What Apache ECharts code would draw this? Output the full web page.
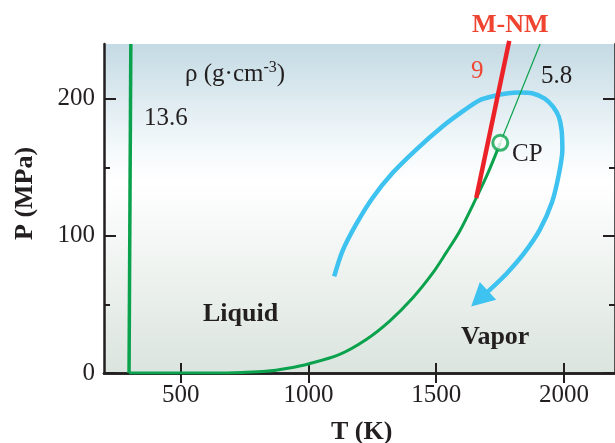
<!DOCTYPE html>
<html><head><meta charset="utf-8">
<script src="https://cdn.jsdelivr.net/npm/echarts@6/dist/echarts.min.js"></script>
<style>html,body{margin:0;padding:0;background:#fff}#c{width:615px;height:443px}</style>
</head><body><div id="c"></div>
<script>
// Axis ranges and ticks
const xRange = [200, 2200];
const yRange = [0, 240];
const xTicks = [500, 1000, 1500, 2000];
const yMajor = [0, 100, 200];
const yMinor = [50, 150];

// Isochore rho = 13.6 g/cm3 (T, P)
const iso136 = [[298, 0], [305, 240]];
// Liquid-vapor coexistence curve up to the critical point (T, P)
const coexist = [[298, 0], [640, 0], [740, 0.4], [833, 1.2], [920, 3.5], [1003, 6.8], [1120, 13.4], [1225, 24.3], [1317, 37.7], [1408, 54.7], [1487, 73], [1540, 88], [1592, 103.4], [1657, 127.7], [1703, 146], [1751, 167.9]];
// Isochore rho = 5.8 g/cm3 above CP
const iso58 = [[1751, 167.9], [1907, 240]];
// Metal-nonmetal line (rho = 9)
const mnm = [[1657, 127.7], [1786, 242.3]];
// Critical point
const cp = [[1751, 167.9]];
// Blue path arrow (T, P)
const pathT = [1101, 1133, 1186, 1251, 1330, 1422, 1526, 1605, 1670, 1722, 1775, 1827, 1879, 1925, 1958, 1980, 1991, 1994, 1980, 1953, 1906, 1845, 1778, 1713];
const pathP = [70.5, 88.8, 108.2, 127.7, 146, 163, 180, 191, 199, 201.9, 203.9, 204.6, 203.9, 200.2, 194.2, 186.9, 177.1, 163, 144.7, 124.3, 104.6, 87.6, 73, 61.2];
const arrowHead = [1670, 54.2];

const GREEN = '#0aa24c', RED = '#ec2229', BLUE = '#3ec3f1', TXTRED = '#ef4430', INK = '#231f20';
const FONT = 'Liberation Serif';

const pathData = pathT.map((t, i) => ({ value: [t, pathP[i]], symbol: 'none' }));
pathData.push({ value: arrowHead, symbol: 'triangle', symbolSize: [24, 23], symbolRotate: 133 });

const chart = echarts.init(document.getElementById('c'), null, { renderer: 'canvas' });

const fmt = v => String(v);
function xAx(pos, labels) {
  return {
    type: 'value', position: pos, min: xRange[0], max: xRange[1],
    axisLine: { show: true, lineStyle: { color: INK, width: 2.5 } },
    splitLine: { show: false },
    axisTick: { show: true, inside: true, length: 10, lineStyle: { color: INK, width: 2 }, customValues: xTicks },
    axisLabel: { show: labels, color: INK, fontFamily: FONT, fontSize: 25, margin: 10, formatter: fmt, customValues: xTicks }
  };
}
function yAx(pos, ticks, len, labels, line) {
  return {
    type: 'value', position: pos, min: yRange[0], max: yRange[1],
    axisLine: { show: line, lineStyle: { color: INK, width: 2.5 } },
    splitLine: { show: false },
    axisTick: { show: true, inside: true, length: len, lineStyle: { color: INK, width: 2 }, customValues: ticks },
    axisLabel: { show: labels, color: INK, fontFamily: FONT, fontSize: 25, margin: 9, formatter: fmt, customValues: ticks }
  };
}

const txt = (left, top, text, size, weight, color, extra) => Object.assign({
  type: 'text', left: left, top: top,
  style: { text: text, fontFamily: FONT, fontSize: size, fontWeight: weight, fill: color }
}, extra || {});

chart.setOption({
  animation: false,
  grid: {
    left: 104, right: 0, top: 44, bottom: 70, show: true, borderWidth: 0,
    backgroundColor: {
      type: 'linear', x: 0, y: 0, x2: 0, y2: 1,
      colorStops: [
        { offset: 0, color: '#c4dae4' },
        { offset: 0.3, color: '#f2f8fa' },
        { offset: 0.42, color: '#ffffff' },
        { offset: 0.6, color: '#f4f7f5' },
        { offset: 1, color: '#dbe4de' }
      ]
    }
  },
  xAxis: [xAx('bottom', true), xAx('top', false)],
  yAxis: [
    yAx('left', yMajor, 12, true, true),
    yAx('left', yMinor, 6, false, false),
    yAx('right', yMajor, 12, false, true),
    yAx('right', yMinor, 6, false, false)
  ],
  series: [
    { type: 'line', data: pathData, smooth: 0.3, showSymbol: true, lineStyle: { color: BLUE, width: 4.5 }, itemStyle: { color: BLUE }, z: 2 },
    { type: 'line', data: iso136, symbol: 'none', lineStyle: { color: GREEN, width: 3.5 }, z: 3 },
    { type: 'line', data: coexist, symbol: 'none', smooth: 0.3, lineStyle: { color: GREEN, width: 3 }, z: 3 },
    { type: 'line', data: iso58, symbol: 'none', lineStyle: { color: GREEN, width: 1.2 }, z: 3 },
    { type: 'line', data: mnm, symbol: 'none', clip: false, lineStyle: { color: RED, width: 4.5 }, z: 4 },
    { type: 'scatter', data: cp, symbol: 'circle', symbolSize: 15, itemStyle: { color: '#ffffff', borderColor: GREEN, borderWidth: 3 }, z: 5 }
  ],
  graphic: [
    { type: 'text', left: 185, top: 60, style: { text: 'ρ (g·cm{s|-3})', fontFamily: FONT, fontSize: 25, fill: INK,
      rich: { s: { fontFamily: FONT, fontSize: 16, fill: INK, verticalAlign: 'top', padding: [0, 0, 12, 0] } } } },
    txt(144, 106, '13.6', 25, 'normal', INK),
    txt(541, 64, '5.8', 25, 'normal', INK),
    txt(471, 59, '9', 25, 'normal', TXTRED),
    txt(472, 12, 'M-NM', 26, 'bold', TXTRED),
    txt(512, 142, 'CP', 25, 'normal', INK),
    txt(203, 301, 'Liquid', 26, 'bold', INK),
    txt(461, 324, 'Vapor', 26, 'bold', INK),
    txt(331, 419, 'T (K)', 26, 'bold', INK),
    txt(0, 0, 'P (MPa)', 26, 'bold', INK, { left: null, top: null, x: 12, y: 240, rotation: Math.PI / 2 })
  ]
});
</script></body></html>
